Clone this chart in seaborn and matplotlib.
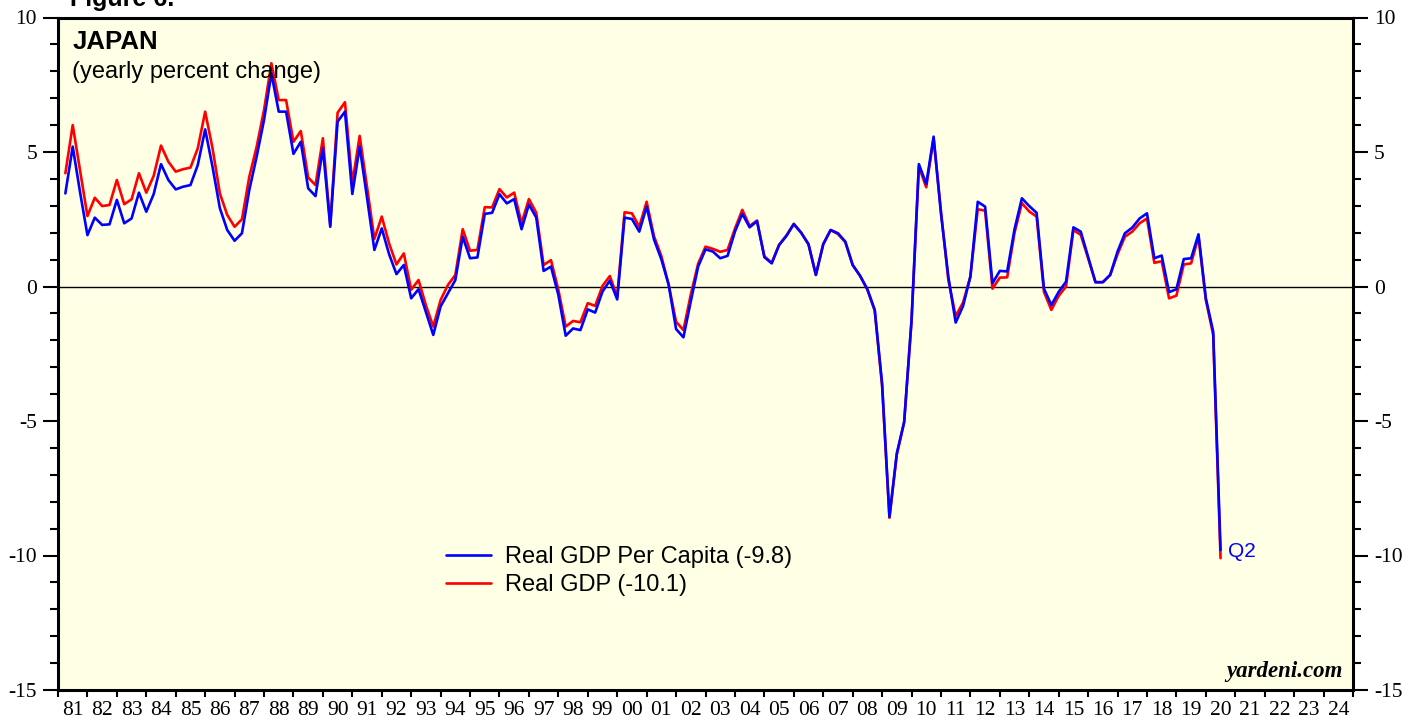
import numpy as np
import pandas as pd
import matplotlib
matplotlib.use('Agg')
import matplotlib.pyplot as plt
from matplotlib.lines import Line2D
import seaborn as sns

# quarterly data, 1981Q1 .. 2020Q2
quarters = pd.period_range('1981Q1', '2020Q2', freq='Q')

# Real GDP per capita, yearly percent change
gdp_per_capita = [
    3.46, 5.2, 3.5, 1.91, 2.56, 2.29, 2.31, 3.22, 2.35, 2.53,
    3.49, 2.78, 3.43, 4.55, 3.96, 3.61, 3.71, 3.77, 4.52, 5.84,
    4.45, 2.91, 2.1, 1.70, 1.98, 3.59, 4.83, 6.19, 7.92, 6.5,
    6.5, 4.93, 5.38, 3.65, 3.36, 5.14, 2.22, 6.13, 6.5, 3.44,
    5.2, 3.3, 1.36, 2.16, 1.2, 0.46, 0.8, -0.44, -0.1, -0.95,
    -1.8, -0.74, -0.25, 0.24, 1.85, 1.05, 1.08, 2.7, 2.74, 3.43,
    3.09, 3.25, 2.13, 3.05, 2.56, 0.58, 0.74, -0.31, -1.83, -1.56,
    -1.62, -0.85, -0.97, -0.19, 0.22, -0.48, 2.56, 2.51, 2.04, 2.97,
    1.75, 1.01, 0.06, -1.58, -1.89, -0.55, 0.74, 1.38, 1.3, 1.05,
    1.14, 2.04, 2.7, 2.2, 2.43, 1.09, 0.86, 1.54, 1.88, 2.32,
    2.0, 1.57, 0.43, 1.57, 2.1, 1.98, 1.67, 0.8, 0.4, -0.1,
    -0.87, -3.6, -8.56, -6.2, -5.03, -1.25, 4.55, 3.81, 5.57, 2.72,
    0.37, -1.34, -0.73, 0.37, 3.15, 2.97, 0.12, 0.58, 0.56, 2.13,
    3.28, 2.99, 2.74, -0.08, -0.69, -0.2, 0.18, 2.2, 2.04, 1.1,
    0.16, 0.16, 0.43, 1.3, 1.98, 2.19, 2.53, 2.72, 1.05, 1.15,
    -0.21, -0.1, 1.02, 1.05, 1.94, -0.44, -1.68, -9.8,
]

# Real GDP, yearly percent change
real_gdp = [
    4.21, 6.0, 4.3, 2.62, 3.3, 2.99, 3.03, 3.96, 3.06, 3.24,
    4.21, 3.49, 4.11, 5.24, 4.64, 4.27, 4.36, 4.42, 5.14, 6.5,
    5.14, 3.46, 2.66, 2.22, 2.5, 4.08, 5.2, 6.56, 8.3, 6.93,
    6.93, 5.38, 5.78, 4.05, 3.77, 5.51, 2.3, 6.46, 6.85, 3.84,
    5.6, 3.7, 1.77, 2.6, 1.6, 0.82, 1.23, -0.12, 0.24, -0.7,
    -1.49, -0.5, 0.06, 0.43, 2.13, 1.33, 1.36, 2.95, 2.94, 3.62,
    3.31, 3.49, 2.35, 3.25, 2.74, 0.8, 0.98, -0.12, -1.49, -1.28,
    -1.33, -0.62, -0.72, 0.02, 0.39, -0.38, 2.76, 2.72, 2.22, 3.15,
    1.87, 1.13, 0.06, -1.31, -1.62, -0.3, 0.85, 1.48, 1.4, 1.29,
    1.36, 2.15, 2.85, 2.25, 2.45, 1.12, 0.88, 1.55, 1.9, 2.33,
    2.0, 1.57, 0.43, 1.57, 2.1, 1.95, 1.65, 0.8, 0.4, -0.12,
    -0.9, -3.7, -8.6, -6.25, -5.05, -1.3, 4.45, 3.69, 5.5, 2.8,
    0.25, -1.1, -0.6, 0.37, 2.87, 2.82, -0.08, 0.33, 0.34, 2.0,
    3.1, 2.79, 2.6, -0.2, -0.87, -0.35, 0.0, 2.1, 1.92, 1.05,
    0.16, 0.16, 0.43, 1.2, 1.85, 2.04, 2.35, 2.53, 0.88, 0.94,
    -0.44, -0.34, 0.82, 0.86, 1.85, -0.5, -1.8, -10.1,
]

years = list(range(1981, 2025))
year_labels = [str(y)[2:] for y in years]

# x position = end of each quarter as decimal year
df = pd.DataFrame({
    'date': [p.year + p.quarter / 4 for p in quarters],
    'per_capita': gdp_per_capita,
    'gdp': real_gdp,
})

sns.set_style('ticks')
plt.rcParams['font.family'] = ['Liberation Sans', 'DejaVu Sans']
plt.rcParams['axes.unicode_minus'] = False
plt.rcParams['text.color'] = 'black'
plt.rcParams['xtick.color'] = 'black'
plt.rcParams['ytick.color'] = 'black'

fig = plt.figure(figsize=(14.19, 7.21), dpi=100)
ax = fig.add_axes([58 / 1419, 31 / 721, 1295 / 1419, 672.5 / 721])
ax.set_facecolor('#ffffe6')

ax.axhline(0, color='black', lw=1.0, zorder=1)
sns.lineplot(data=df, x='date', y='gdp', color='red', lw=1.9, ax=ax, zorder=2)
sns.lineplot(data=df, x='date', y='per_capita', color='blue', lw=1.9, ax=ax, zorder=3)

ax.set_xlim(1981, 2025)
ax.set_ylim(-15, 10)
ax.set_xlabel('')
ax.set_ylabel('')

# y axis: both sides, minor every 1
ax.set_yticks(np.arange(-15, 11, 5))
ax.set_yticks(np.arange(-15, 11, 1), minor=True)
ax.tick_params(axis='y', which='both', direction='out', left=True, right=True,
               labelleft=True, labelright=True, width=1.5, color='black')
ax.tick_params(axis='y', which='major', length=11, pad=4, labelsize=15.5)
ax.tick_params(axis='y', which='minor', length=5.5)

# x axis: ticks at year boundaries, labels centred in the year
ax.set_xticks(years + [2025])
ax.set_xticklabels([])
ax.set_xticks([y + 0.5 for y in years], minor=True)
ax.set_xticklabels(year_labels, minor=True)
ax.tick_params(axis='x', which='major', direction='out', length=5, width=1.5)
ax.tick_params(axis='x', which='minor', length=0, pad=8, labelsize=15.5)

for lab in ax.get_yticklabels() + ax.get_xticklabels(minor=True):
    lab.set_fontfamily('Liberation Serif')
for lab in ax.yaxis.get_ticklabels(which='major'):
    lab.set_fontfamily('Liberation Serif')
for t in ax.yaxis.get_major_ticks():
    t.label2.set_fontfamily('Liberation Serif')

for sp in ax.spines.values():
    sp.set_visible(True)
    sp.set_linewidth(2.2)
    sp.set_color('black')

ax.text(0.011, 0.981, 'JAPAN', transform=ax.transAxes, fontsize=18.5,
        fontweight='bold', va='top', ha='left')
ax.text(0.011, 0.936, '(yearly percent change)', transform=ax.transAxes,
        fontsize=17, va='top', ha='left')

ax.text(2020.75, -9.85, 'Q2', color='blue', fontsize=15, va='center', ha='left')

ax.text(0.992, 0.012, 'yardeni.com', transform=ax.transAxes, fontsize=16.5,
        fontweight='bold', fontstyle='italic', family='Liberation Serif',
        ha='right', va='bottom')

fig.text(70 / 1419, 1 - 6 / 721, 'Figure 6.', fontsize=18, fontweight='bold',
         ha='left', va='baseline')

handles = [Line2D([], [], color='blue', lw=1.9),
           Line2D([], [], color='red', lw=1.9)]
ax.legend(handles, ['Real GDP Per Capita (-9.8)', 'Real GDP (-10.1)'],
          loc='upper left', bbox_to_anchor=(0.2996, 0.214), frameon=False,
          fontsize=17, handlelength=1.9, handletextpad=0.6, labelspacing=0.25,
          borderpad=0, borderaxespad=0)

fig.savefig('out.png', dpi=100)
